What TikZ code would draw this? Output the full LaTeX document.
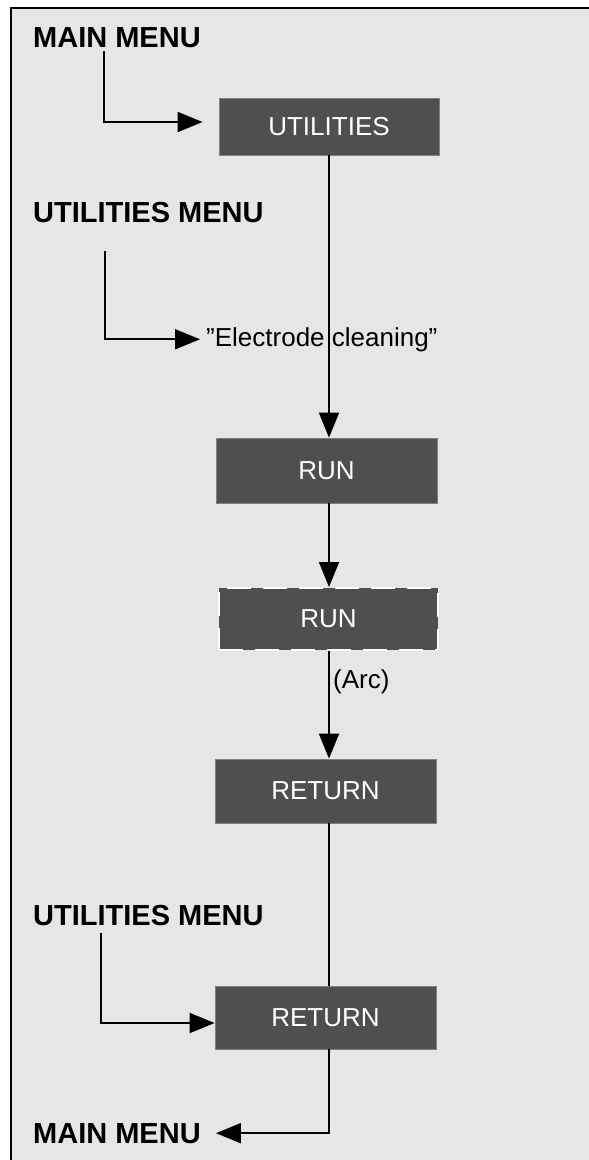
\documentclass[tikz,border=0pt]{standalone}
\usepackage{fontspec}
\setmainfont{Liberation Sans}
\usepackage{xcolor}
\usepackage{tikz}
\usetikzlibrary{arrows.meta,positioning,calc}
\definecolor{keygray}{HTML}{4F4F4F}
\definecolor{keyedge}{HTML}{808080}
\definecolor{panel}{HTML}{E6E6E6}
\tikzset{
    every picture/.style={line join=miter},
    keybox/.style={draw=keyedge,fill=keygray,line width=0.8pt,
      minimum width=221pt,minimum height=64pt,inner sep=0pt,
      text=white,font=\fontsize{26}{30}\selectfont},
    arcbox/.style={draw=white,line width=2pt,dash pattern=on 24pt off 12pt},
    menulabel/.style={anchor=base west,inner sep=0pt,
      font=\fontsize{29}{34}\selectfont\bfseries},
    steptext/.style={inner sep=0pt,font=\fontsize{26}{30}\selectfont},
    flowarrow/.style={-{Triangle[length=25pt,width=20pt]},draw=black,
      line width=1.8pt},
    flowline/.style={draw=black,line width=1.8pt}
}

\begin{document}
\begin{tikzpicture}[x=1pt,y=-1pt]
  \useasboundingbox (0,0) rectangle (589,1160);
  \draw[line width=2pt,fill=panel] (11,8) rectangle (604,1176);
  \node[menulabel] (maintop) at (33,47) {MAIN MENU};
  \node[menulabel] (utilmenu) at (33,222) {UTILITIES MENU};
  \node[menulabel] (utilmenub) at (33,925) {UTILITIES MENU};
  \node[menulabel] (mainbot) at (33,1143) {MAIN MENU};
  \node[keybox,minimum width=220pt,minimum height=57pt] (util) at (329,126.5) {UTILITIES};
  \node[steptext,anchor=base west] (clean) at (206,346) {”Electrode cleaning”};
  \node[keybox,minimum height=65pt] (run) at (326.5,470.5) {RUN};
  \node[keybox,arcbox,minimum width=219pt,minimum height=62pt] (runarc) at (328.5,619) {RUN};
  \node[steptext,anchor=west] (arc) at (333,682) {(Arc)};
  \node[keybox] (ret) at (325.5,791) {RETURN};
  \node[keybox,minimum height=63pt] (retb) at (325.5,1017.5) {RETURN};
  \draw[flowarrow] ([xshift=71pt,yshift=-4pt]maintop.base west) |- ([xshift=-16pt,yshift=4.5pt]util.west);
  \draw[flowarrow] ([xshift=72pt,yshift=-29pt]utilmenu.base west) |- ([xshift=-6pt]clean.west);
  \draw[flowarrow] ([xshift=68pt,yshift=-8pt]utilmenub.base west) |- ([yshift=-5.5pt]retb.west);
  \draw[flowarrow] ([xshift=3.5pt]retb.south) |- ([xshift=15pt]mainbot.east);
  \draw[flowarrow] (util.south) -- (util.south |- run.north);
  \draw[flowarrow] (util.south |- run.south) -- (util.south |- runarc.north);
  \draw[flowarrow] (util.south |- runarc.south) -- (util.south |- ret.north);
  \draw[flowline] (util.south |- ret.south) -- (util.south |- retb.north);
\end{tikzpicture}
\end{document}
